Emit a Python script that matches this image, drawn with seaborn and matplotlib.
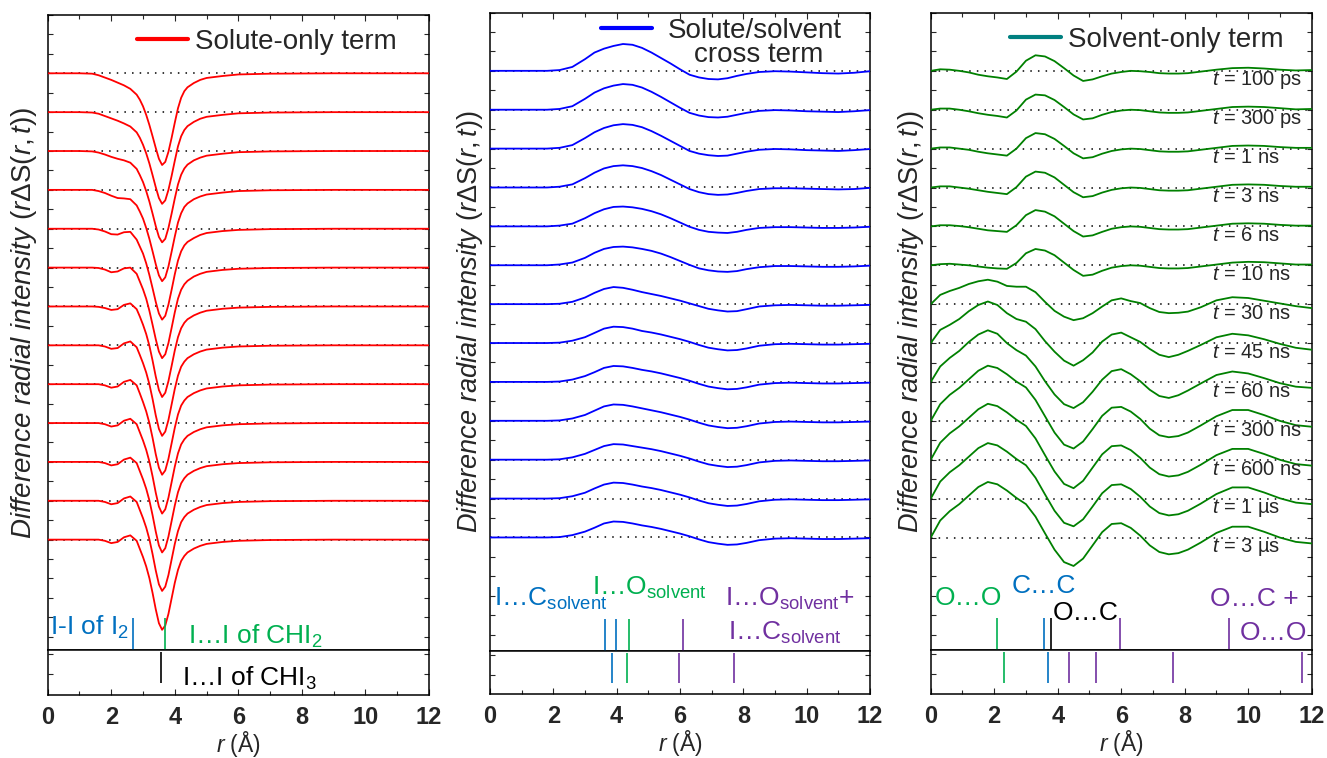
import numpy as np
import pandas as pd
import matplotlib
matplotlib.use("Agg")
import matplotlib.pyplot as plt
import seaborn as sns
from matplotlib.lines import Line2D

# ---------------- data ----------------
time_labels = ["100 ps", "300 ps", "1 ns", "3 ns", "6 ns", "10 ns", "30 ns",
               "45 ns", "60 ns", "300 ns", "600 ns", "1 µs", "3 µs"]
offsets = [12, 11, 10, 9, 8, 7, 6, 5, 4, 3, 2, 1, 0]

# Solute-only term
r_solute = [0, 1.0, 1.4, 1.6, 1.8, 2.0, 2.2, 2.4, 2.6, 2.8, 2.9, 3.0, 3.1, 3.2, 3.3, 3.4,
            3.5, 3.6, 3.7, 3.8, 3.9, 4.0, 4.1, 4.2, 4.3, 4.4, 4.6, 4.8, 5.0, 5.5, 6.0, 7.0, 9.0, 12.0]
solute_curves = [
    [0, 0, -0.01, -0.05, -0.11, -0.17, -0.24, -0.31, -0.40, -0.55, -0.68, -0.85, -1.07, -1.33, -1.62, -1.92,
     -2.20, -2.36, -2.28, -2.02, -1.66, -1.27, -0.90, -0.63, -0.46, -0.36, -0.25, -0.17, -0.12, -0.07, -0.03, -0.01, 0, 0],
    [0, 0, -0.01, -0.04, -0.10, -0.16, -0.22, -0.29, -0.37, -0.52, -0.66, -0.84, -1.06, -1.32, -1.62, -1.93,
     -2.21, -2.36, -2.27, -2.00, -1.64, -1.25, -0.88, -0.62, -0.46, -0.36, -0.25, -0.17, -0.12, -0.07, -0.03, -0.01, 0, 0],
    [0, 0, -0.01, -0.04, -0.09, -0.15, -0.20, -0.24, -0.30, -0.46, -0.62, -0.80, -1.03, -1.30, -1.61, -1.93,
     -2.21, -2.35, -2.26, -1.98, -1.61, -1.22, -0.86, -0.61, -0.45, -0.35, -0.24, -0.17, -0.12, -0.07, -0.03, -0.01, 0, 0],
    [0, 0, 0, -0.03, -0.08, -0.15, -0.21, -0.22, -0.24, -0.40, -0.56, -0.74, -0.98, -1.26, -1.58, -1.91,
     -2.20, -2.35, -2.25, -1.97, -1.59, -1.20, -0.84, -0.60, -0.44, -0.35, -0.24, -0.17, -0.12, -0.07, -0.03, -0.01, 0, 0],
    [0, 0, 0, -0.02, -0.07, -0.14, -0.15, -0.09, -0.08, -0.28, -0.46, -0.64, -0.89, -1.19, -1.53, -1.88,
     -2.18, -2.34, -2.24, -1.95, -1.57, -1.17, -0.82, -0.58, -0.43, -0.34, -0.24, -0.16, -0.11, -0.06, -0.03, -0.01, 0, 0],
    [0, 0, 0, -0.01, -0.05, -0.12, -0.10, -0.02, 0.00, -0.16, -0.36, -0.56, -0.80, -1.11, -1.47, -1.84,
     -2.16, -2.33, -2.23, -1.94, -1.55, -1.15, -0.80, -0.57, -0.43, -0.34, -0.23, -0.16, -0.11, -0.06, -0.03, -0.01, 0, 0],
    [0, 0, 0, -0.01, -0.04, -0.09, -0.07, 0.04, 0.08, -0.07, -0.26, -0.47, -0.71, -1.01, -1.39, -1.80,
     -2.15, -2.33, -2.22, -1.92, -1.53, -1.13, -0.79, -0.56, -0.42, -0.33, -0.23, -0.16, -0.11, -0.06, -0.03, -0.01, 0, 0],
    [0, 0, 0, 0, -0.03, -0.09, -0.07, 0.05, 0.10, -0.05, -0.25, -0.46, -0.70, -1.00, -1.38, -1.80,
     -2.15, -2.33, -2.22, -1.92, -1.52, -1.12, -0.78, -0.55, -0.42, -0.33, -0.23, -0.16, -0.11, -0.06, -0.03, -0.01, 0, 0],
    [0, 0, 0, 0, -0.03, -0.09, -0.06, 0.06, 0.11, -0.03, -0.24, -0.46, -0.70, -1.00, -1.38, -1.80,
     -2.15, -2.33, -2.22, -1.92, -1.52, -1.12, -0.78, -0.55, -0.42, -0.33, -0.23, -0.16, -0.11, -0.06, -0.03, -0.01, 0, 0],
    [0, 0, 0, 0, -0.03, -0.09, -0.06, 0.06, 0.11, -0.03, -0.24, -0.45, -0.69, -0.99, -1.37, -1.79,
     -2.15, -2.33, -2.22, -1.92, -1.52, -1.12, -0.78, -0.55, -0.42, -0.33, -0.23, -0.16, -0.11, -0.06, -0.03, -0.01, 0, 0],
    [0, 0, 0, 0, -0.03, -0.09, -0.06, 0.06, 0.11, -0.03, -0.24, -0.45, -0.69, -0.99, -1.37, -1.79,
     -2.15, -2.33, -2.22, -1.92, -1.52, -1.12, -0.78, -0.55, -0.42, -0.33, -0.23, -0.16, -0.11, -0.06, -0.03, -0.01, 0, 0],
    [0, 0, 0, 0, -0.03, -0.09, -0.06, 0.06, 0.11, -0.03, -0.24, -0.45, -0.69, -0.99, -1.37, -1.79,
     -2.15, -2.32, -2.21, -1.91, -1.51, -1.11, -0.78, -0.55, -0.42, -0.33, -0.23, -0.16, -0.11, -0.06, -0.03, -0.01, 0, 0],
    [0, 0, 0, 0, -0.03, -0.09, -0.06, 0.06, 0.11, -0.03, -0.24, -0.45, -0.69, -0.99, -1.37, -1.79,
     -2.15, -2.32, -2.21, -1.91, -1.51, -1.11, -0.78, -0.55, -0.42, -0.33, -0.23, -0.16, -0.11, -0.06, -0.03, -0.01, 0, 0],
]

# Solute/solvent cross term
r_cross = [0, 1.0, 1.8, 2.2, 2.6, 3.0, 3.3, 3.6, 3.9, 4.2, 4.5, 4.8, 5.1, 5.4, 5.7, 6.0,
           6.3, 6.6, 6.9, 7.2, 7.5, 7.8, 8.1, 8.5, 9.0, 9.5, 10.0, 10.5, 11.0, 11.5, 12.0]
cross_curves = [
    [0, 0, 0, 0.02, 0.10, 0.30, 0.47, 0.57, 0.64, 0.69, 0.67, 0.59, 0.47, 0.33, 0.19, 0.04,
     -0.10, -0.17, -0.21, -0.22, -0.19, -0.13, -0.08, -0.03, -0.01, -0.02, -0.04, -0.06, -0.07, -0.05, -0.01],
    [0, 0, 0, 0.02, 0.09, 0.28, 0.44, 0.55, 0.62, 0.66, 0.64, 0.57, 0.46, 0.33, 0.19, 0.05,
     -0.08, -0.15, -0.19, -0.20, -0.18, -0.13, -0.08, -0.03, -0.01, -0.02, -0.04, -0.05, -0.06, -0.04, -0.01],
    [0, 0, 0, 0.02, 0.09, 0.27, 0.42, 0.53, 0.60, 0.63, 0.61, 0.55, 0.45, 0.33, 0.20, 0.07,
     -0.06, -0.13, -0.17, -0.19, -0.18, -0.13, -0.08, -0.03, -0.01, -0.02, -0.04, -0.05, -0.06, -0.04, -0.01],
    [0, 0, 0, 0.02, 0.08, 0.24, 0.38, 0.49, 0.55, 0.57, 0.55, 0.50, 0.42, 0.32, 0.20, 0.08,
     -0.04, -0.12, -0.17, -0.19, -0.18, -0.14, -0.09, -0.04, -0.02, -0.02, -0.03, -0.04, -0.05, -0.04, -0.01],
    [0, 0, 0, 0.02, 0.07, 0.21, 0.34, 0.44, 0.50, 0.51, 0.49, 0.45, 0.39, 0.31, 0.21, 0.10,
     -0.01, -0.09, -0.14, -0.16, -0.17, -0.14, -0.09, -0.04, -0.02, -0.02, -0.03, -0.04, -0.04, -0.03, -0.01],
    [0, 0, 0, 0.02, 0.07, 0.19, 0.32, 0.42, 0.47, 0.48, 0.46, 0.42, 0.37, 0.30, 0.21, 0.11,
     0.01, -0.08, -0.13, -0.16, -0.17, -0.15, -0.10, -0.05, -0.02, -0.02, -0.03, -0.04, -0.04, -0.03, -0.01],
    [0, 0, 0, 0.01, 0.06, 0.17, 0.29, 0.39, 0.44, 0.42, 0.37, 0.31, 0.26, 0.21, 0.15, 0.09,
     0.02, -0.05, -0.12, -0.16, -0.19, -0.18, -0.13, -0.06, -0.03, -0.02, -0.03, -0.04, -0.04, -0.03, -0.02],
    [0, 0, 0, 0.01, 0.06, 0.15, 0.26, 0.37, 0.42, 0.41, 0.37, 0.31, 0.27, 0.22, 0.16, 0.10,
     0.03, -0.05, -0.12, -0.16, -0.19, -0.18, -0.14, -0.07, -0.03, -0.02, -0.03, -0.04, -0.04, -0.03, -0.02],
    [0, 0, 0, 0.01, 0.06, 0.15, 0.25, 0.36, 0.41, 0.40, 0.36, 0.31, 0.27, 0.22, 0.16, 0.10,
     0.03, -0.05, -0.12, -0.16, -0.19, -0.18, -0.14, -0.07, -0.03, -0.02, -0.03, -0.04, -0.04, -0.03, -0.02],
    [0, 0, 0, 0.01, 0.06, 0.15, 0.26, 0.37, 0.42, 0.41, 0.37, 0.32, 0.27, 0.22, 0.16, 0.10,
     0.03, -0.05, -0.12, -0.16, -0.19, -0.18, -0.14, -0.07, -0.03, -0.02, -0.03, -0.04, -0.04, -0.03, -0.02],
    [0, 0, 0, 0.01, 0.06, 0.15, 0.25, 0.35, 0.40, 0.39, 0.35, 0.31, 0.27, 0.22, 0.16, 0.10,
     0.03, -0.05, -0.12, -0.16, -0.19, -0.18, -0.14, -0.07, -0.03, -0.02, -0.03, -0.04, -0.04, -0.03, -0.02],
    [0, 0, 0, 0.01, 0.06, 0.15, 0.26, 0.36, 0.41, 0.40, 0.36, 0.31, 0.27, 0.22, 0.16, 0.10,
     0.03, -0.05, -0.12, -0.16, -0.19, -0.18, -0.14, -0.07, -0.03, -0.02, -0.03, -0.04, -0.04, -0.03, -0.02],
    [0, 0, 0, 0.01, 0.06, 0.15, 0.25, 0.36, 0.41, 0.40, 0.36, 0.31, 0.27, 0.22, 0.16, 0.10,
     0.03, -0.05, -0.12, -0.16, -0.19, -0.18, -0.14, -0.07, -0.03, -0.02, -0.03, -0.04, -0.04, -0.03, -0.02],
]

# Solvent-only term
r_solvent = [0, 0.3, 0.6, 0.9, 1.2, 1.5, 1.8, 2.1, 2.4, 2.7, 3.0, 3.3, 3.6, 3.9, 4.2, 4.5, 4.8, 5.1,
             5.4, 5.7, 6.0, 6.3, 6.6, 6.9, 7.2, 7.5, 7.8, 8.1, 8.5, 9.0, 9.5, 10.0, 10.5, 11.0, 11.5, 12.0]
solvent_curves = [
    [0, 0.04, 0.03, 0.0, -0.04, -0.10, -0.14, -0.17, -0.21, -0.02, 0.26, 0.40, 0.37, 0.25, 0.07, -0.12, -0.26, -0.22,
     -0.14, -0.07, -0.03, 0.0, -0.01, -0.03, -0.06, -0.07, -0.07, -0.06, -0.02, 0.03, 0.07, 0.08, 0.06, 0.03, 0.01, 0.02],
    [0, 0.03, 0.03, 0.0, -0.04, -0.09, -0.13, -0.16, -0.20, -0.02, 0.26, 0.39, 0.37, 0.25, 0.07, -0.12, -0.25, -0.22,
     -0.13, -0.06, -0.02, 0.0, -0.01, -0.04, -0.07, -0.08, -0.08, -0.07, -0.03, 0.02, 0.07, 0.08, 0.07, 0.04, 0.01, 0.02],
    [0, 0.03, 0.03, 0.0, -0.03, -0.08, -0.12, -0.15, -0.18, 0.0, 0.27, 0.40, 0.37, 0.25, 0.07, -0.12, -0.25, -0.22,
     -0.13, -0.06, -0.02, 0.0, -0.01, -0.04, -0.07, -0.08, -0.08, -0.07, -0.03, 0.02, 0.07, 0.08, 0.07, 0.04, 0.02, 0.02],
    [0, 0.03, 0.03, 0.0, -0.03, -0.07, -0.11, -0.14, -0.17, 0.01, 0.28, 0.41, 0.38, 0.26, 0.07, -0.12, -0.25, -0.22,
     -0.13, -0.06, -0.02, 0.0, -0.01, -0.04, -0.07, -0.08, -0.08, -0.07, -0.03, 0.02, 0.07, 0.08, 0.07, 0.04, 0.02, 0.02],
    [0, 0.03, 0.03, 0.01, -0.02, -0.06, -0.10, -0.12, -0.14, 0.03, 0.29, 0.42, 0.38, 0.26, 0.07, -0.12, -0.26, -0.23,
     -0.14, -0.06, -0.02, 0.0, -0.01, -0.04, -0.07, -0.08, -0.08, -0.07, -0.03, 0.02, 0.07, 0.08, 0.07, 0.04, 0.02, 0.02],
    [0, 0.03, 0.04, 0.02, 0.0, -0.03, -0.06, -0.08, -0.09, 0.06, 0.31, 0.42, 0.38, 0.26, 0.07, -0.12, -0.27, -0.24,
     -0.14, -0.06, -0.02, 0.0, -0.01, -0.04, -0.07, -0.08, -0.08, -0.07, -0.03, 0.02, 0.07, 0.09, 0.08, 0.05, 0.02, 0.02],
    [0, 0.24, 0.34, 0.42, 0.52, 0.59, 0.63, 0.58, 0.47, 0.45, 0.45, 0.31, 0.06, -0.17, -0.32, -0.41, -0.36, -0.23,
     -0.06, 0.10, 0.15, 0.08, 0.03, -0.10, -0.20, -0.23, -0.22, -0.19, -0.08, 0.10, 0.18, 0.16, 0.09, 0.02, -0.05, -0.10],
    [0, 0.34, 0.47, 0.62, 0.82, 0.98, 1.07, 0.98, 0.77, 0.62, 0.55, 0.36, 0.05, -0.22, -0.45, -0.58, -0.44, -0.24,
     0.04, 0.22, 0.27, 0.15, 0.03, -0.15, -0.30, -0.36, -0.30, -0.20, -0.05, 0.15, 0.24, 0.20, 0.10, -0.02, -0.12, -0.17],
    [0, 0.40, 0.62, 0.80, 1.03, 1.22, 1.33, 1.24, 1.00, 0.82, 0.68, 0.40, 0.02, -0.32, -0.57, -0.67, -0.52, -0.25,
     0.06, 0.28, 0.33, 0.20, 0.02, -0.20, -0.36, -0.41, -0.34, -0.22, -0.04, 0.18, 0.27, 0.22, 0.10, -0.03, -0.12, -0.15],
    [0, 0.43, 0.67, 0.85, 1.07, 1.29, 1.42, 1.36, 1.20, 1.01, 0.86, 0.54, 0.12, -0.30, -0.61, -0.71, -0.53, -0.21,
     0.13, 0.34, 0.36, 0.24, 0.05, -0.20, -0.37, -0.42, -0.39, -0.30, -0.12, 0.12, 0.28, 0.28, 0.15, 0.0, -0.11, -0.15],
    [0, 0.44, 0.68, 0.86, 1.08, 1.30, 1.44, 1.38, 1.22, 1.03, 0.87, 0.55, 0.12, -0.30, -0.62, -0.73, -0.54, -0.20,
     0.14, 0.35, 0.37, 0.25, 0.05, -0.20, -0.37, -0.43, -0.40, -0.31, -0.13, 0.12, 0.28, 0.28, 0.15, 0.0, -0.11, -0.15],
    [0, 0.44, 0.68, 0.86, 1.08, 1.30, 1.43, 1.37, 1.21, 1.02, 0.86, 0.54, 0.11, -0.31, -0.62, -0.71, -0.53, -0.20,
     0.14, 0.35, 0.37, 0.25, 0.05, -0.20, -0.37, -0.43, -0.40, -0.31, -0.13, 0.12, 0.29, 0.29, 0.16, 0.01, -0.10, -0.14],
    [0, 0.44, 0.68, 0.86, 1.08, 1.30, 1.43, 1.37, 1.21, 1.02, 0.86, 0.54, 0.11, -0.31, -0.63, -0.73, -0.54, -0.20,
     0.14, 0.35, 0.37, 0.25, 0.05, -0.20, -0.37, -0.43, -0.40, -0.31, -0.13, 0.12, 0.28, 0.28, 0.15, 0.0, -0.11, -0.15],
]

# Reference distances (sticks)
BLUE, GREEN, PURPLE, BLACK = "#0070C0", "#00B050", "#7030A0", "#000000"
solute_upper_r = [2.69, 3.68]
solute_upper_c = [BLUE, GREEN]
solute_lower_r = [3.57]
solute_lower_c = [BLACK]
cross_upper_r = [3.63, 3.98, 4.38, 6.09]
cross_upper_c = [BLUE, BLUE, GREEN, PURPLE]
cross_lower_r = [3.86, 4.32, 5.98, 7.70]
cross_lower_c = [BLUE, GREEN, PURPLE, PURPLE]
solvent_upper_r = [2.08, 3.57, 3.79, 5.96, 9.41]
solvent_upper_c = [GREEN, BLUE, BLACK, PURPLE, PURPLE]
solvent_lower_r = [2.31, 3.69, 4.36, 5.20, 7.62, 11.69]
solvent_lower_c = [GREEN, BLUE, PURPLE, PURPLE, PURPLE, PURPLE]

# ---------------- style ----------------
sns.set_theme(style="ticks")
plt.rcParams["font.family"] = ["Liberation Sans", "DejaVu Sans"]
plt.rcParams["mathtext.fontset"] = "custom"
plt.rcParams["mathtext.rm"] = "Liberation Sans"
plt.rcParams["mathtext.it"] = "Liberation Sans:italic"
plt.rcParams["mathtext.bf"] = "Liberation Sans:bold"
plt.rcParams["mathtext.sf"] = "Liberation Sans"
plt.rcParams["axes.linewidth"] = 1.1
plt.rcParams["axes.edgecolor"] = "black"

W, H = 1327, 758
fig = plt.figure(figsize=(W / 100, H / 100), dpi=100)

YLABEL = r"$\mathit{Difference\ radial\ intensity}$ ($\mathit{r}$$\mathit{Δ}$S($\mathit{r,t}$))"


def px_axes(x0, x1, y0, y1):
    return fig.add_axes([x0 / W, 1 - y1 / H, (x1 - x0) / W, (y1 - y0) / H])


def build(x0, x1, ytop, ysep, ybot, ylo, R, curves, color, upper_r, upper_c, lower_r, lower_c,
          ylabel_x, ylabel_size):
    ax = px_axes(x0, x1, ytop, ysep)
    axl = px_axes(x0, x1, ysep, ybot)
    yhi = 13.5
    ax.hlines(offsets, 0, 12, colors="black", linestyles=(0, (1, 4)), lw=1.1, zorder=1)
    rows = []
    for i, vals in enumerate(curves):
        for r, v in zip(R, vals):
            rows.append((i, r, v + offsets[i]))
    df = pd.DataFrame(rows, columns=["curve", "r", "y"])
    sns.lineplot(data=df, x="r", y="y", units="curve", estimator=None, sort=False,
                 color=color, lw=1.3, ax=ax, legend=False, zorder=3)
    ax.vlines(upper_r, ylo, ylo + 0.82, colors=upper_c, lw=1.2, zorder=4)
    axl.vlines(lower_r, 0.25, 0.95, colors=lower_c, lw=1.2)
    for a in (ax, axl):
        a.set_xlim(0, 12)
        a.set_xticks(range(0, 13, 2))
        a.set_xticks(range(1, 12, 2), minor=True)
        for s in a.spines.values():
            s.set_linewidth(1.1)
            s.set_color("black")
    ax.set_ylim(ylo, yhi)
    ax.set_yticks(np.arange(-2.5, 13.6, 0.5))
    ax.tick_params(axis="y", which="major", direction="in", left=True, right=True,
                   labelleft=False, length=3.5, width=0.8)
    ax.tick_params(axis="x", which="both", direction="in", top=True, bottom=False,
                   labelbottom=False, width=0.8)
    ax.tick_params(axis="x", which="major", length=4.5)
    ax.tick_params(axis="x", which="minor", length=3)
    axl.set_ylim(0, 1)
    axl.set_yticks([0.45, 0.9])
    axl.tick_params(axis="y", direction="in", left=True, right=True, labelleft=False,
                    length=3.5, width=0.8)
    axl.tick_params(axis="x", which="both", direction="in", top=False, bottom=True, width=0.8)
    axl.tick_params(axis="x", which="major", length=4.5, pad=8, labelsize=17)
    axl.tick_params(axis="x", which="minor", length=3)
    for lab in axl.get_xticklabels():
        lab.set_fontweight("bold")
    ax.set_xlabel("")
    ax.set_ylabel(YLABEL, fontsize=ylabel_size)
    ax.yaxis.set_label_coords(ylabel_x, 0.515)
    axl.set_ylabel("")
    axl.set_xlabel(r"$\mathit{r}$ (Å)", fontsize=16.5, labelpad=0)
    return ax, axl


ax1, ax1l = build(47.7, 429, 15, 650, 694.5, -2.84, r_solute, solute_curves, "#FF0000",
                  solute_upper_r, solute_upper_c, solute_lower_r, solute_lower_c, -0.022, 20)
ax2, ax2l = build(490, 870, 12.5, 651, 694, -2.92, r_cross, cross_curves, "#0000FF",
                  cross_upper_r, cross_upper_c, cross_lower_r, cross_lower_c, -0.014, 19.5)
ax3, ax3l = build(930.7, 1311.7, 12.5, 650, 694, -2.89, r_solvent, solvent_curves, "#008000",
                  solvent_upper_r, solvent_upper_c, solvent_lower_r, solvent_lower_c, -0.013, 19.5)


def add_legend(ax, color, label, x, y, pad=0.25):
    h = Line2D([], [], color=color, lw=3)
    leg = ax.legend([h], [label], loc="upper left", bbox_to_anchor=(x, y), frameon=False,
                    fontsize=20, handlelength=1.85, handletextpad=pad, borderpad=0,
                    borderaxespad=0)
    return leg


add_legend(ax1, "#FF0000", "Solute-only term", 0.234, 0.978)
add_legend(ax2, "#0000FF", "Solute/solvent", 0.292, 0.992, pad=0.55)
ax2.text(8.49, 12.40, "cross term", fontsize=20, ha="center", va="center")
add_legend(ax3, "#008080", "Solvent-only term", 0.208, 0.977)

for lab, off in zip(time_labels, offsets):
    ax3.text(8.86, off - 0.24, r"$\mathit{t}$ = " + lab, fontsize=14.5, va="center", ha="left",
             zorder=5)

TS = 19
ax1.text(0.07, -2.45, r"I-I of I$_2$", color=BLUE, fontsize=TS, va="baseline")
ax1.text(4.41, -2.67, r"I…I of CHI$_2$", color=GREEN, fontsize=TS, va="baseline")
ax1l.text(4.23, 0.20, r"I…I of CHI$_3$", color=BLACK, fontsize=TS, va="baseline")

ax2.text(0.13, -1.77, r"I…C$_\mathrm{solvent}$", color=BLUE, fontsize=TS, va="baseline")
ax2.text(3.21, -1.47, r"I…O$_\mathrm{solvent}$", color=GREEN, fontsize=TS, va="baseline")
ax2.text(7.42, -1.77, r"I…O$_\mathrm{solvent}$+", color=PURPLE, fontsize=TS, va="baseline")
ax2.text(7.52, -2.63, r"I…C$_\mathrm{solvent}$", color=PURPLE, fontsize=TS, va="baseline")

ax3.text(0.14, -1.73, "O…O", color=GREEN, fontsize=TS, va="baseline")
ax3.text(2.55, -1.43, "C…C", color=BLUE, fontsize=TS, va="baseline")
ax3.text(3.84, -2.12, "O…C", color=BLACK, fontsize=TS, va="baseline")
ax3.text(8.80, -1.77, "O…C +", color=PURPLE, fontsize=TS, va="baseline")
ax3.text(9.74, -2.63, "O…O", color=PURPLE, fontsize=TS, va="baseline")

fig.savefig("out.png", dpi=100)
